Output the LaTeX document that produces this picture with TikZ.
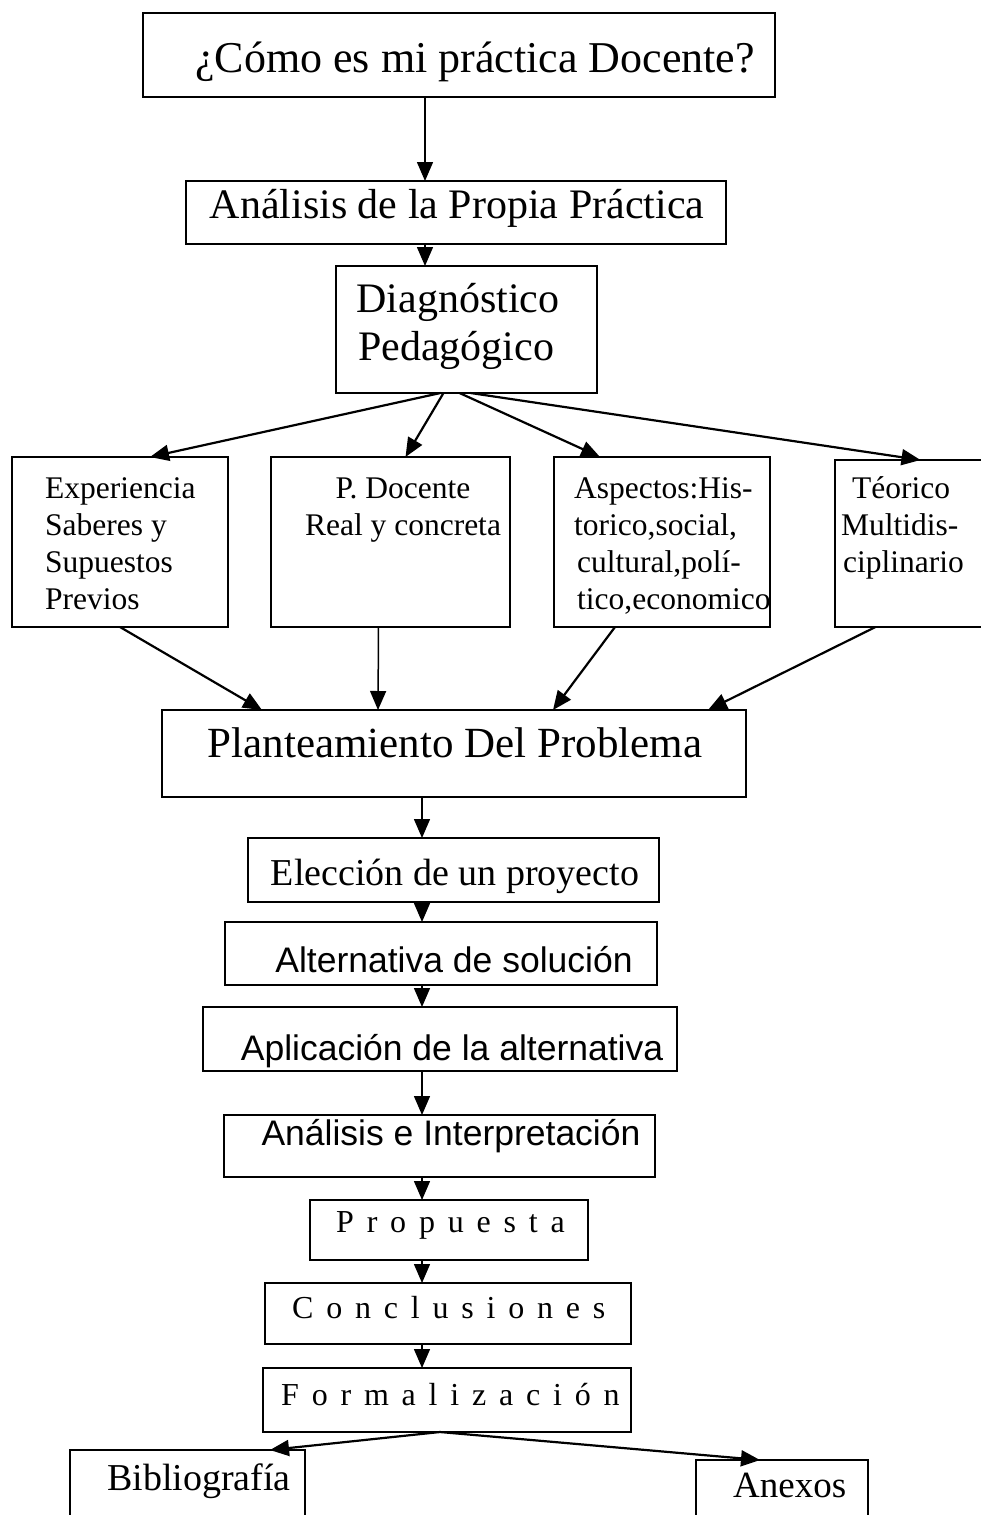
\documentclass[tikz,border=0pt]{standalone}
\usepackage{fontspec}
\setmainfont{Liberation Serif}
\newfontfamily\sansf{Liberation Sans}
\newfontfamily\spacedf[LetterSpace=40]{Liberation Serif}
\usetikzlibrary{arrows.meta,calc}
\tikzset{
 box/.style={draw, line width=2pt, inner sep=0pt, outer sep=0pt},
 lbl/.style={inner sep=0pt, anchor=base},
 lblw/.style={inner sep=0pt, anchor=base west},
 arr/.style={line width=2.2pt, -{Triangle[length=19pt,width=16pt]}},
 varr/.style={line width=1.5pt, -{Triangle[length=19pt,width=16pt]}},
 big/.style={font=\fontsize{44}{50}\selectfont},
 mid/.style={font=\fontsize{42}{48}\selectfont},
 small/.style={font=\fontsize{31.5}{37}\selectfont},
 serifm/.style={font=\fontsize{38}{44}\selectfont},
 sansm/.style={font=\sansf\fontsize{35.5}{42}\selectfont},
 spaced/.style={font=\spacedf\fontsize{32}{38}\selectfont},
}
\newcommand\mybox[5]{\node[box, anchor=north west, minimum width={#4-#2}, minimum height={#5-#3}] (#1) at (#2,#3) {};}
\begin{document}
\begin{tikzpicture}[x=1pt,y=-1pt]
\clip (0,0) rectangle (981,1515);
\fill[white] (0,0) rectangle (981,1515);
% boxes
\mybox{top}{143}{13}{775}{97}
\mybox{ana}{186}{181}{726}{244}
\mybox{diag}{336}{266}{597}{393}
\mybox{bA}{12}{457}{228}{627}
\mybox{bB}{271}{457}{510}{627}
\mybox{bC}{554}{457}{770}{627}
\mybox{bD}{835}{460}{1010}{627}
\mybox{plan}{162}{710}{746}{797}
\mybox{elec}{248}{838}{659}{902}
\mybox{alt}{225}{922}{657}{985}
\mybox{apl}{203}{1007}{677}{1071}
\mybox{aint}{224}{1115}{655}{1177}
\mybox{prop}{310}{1200}{588}{1260}
\mybox{conc}{265}{1283}{631}{1344}
\mybox{form}{263}{1368}{631}{1432}
\mybox{bib}{70}{1450}{305}{1530}
\mybox{anx}{696}{1460}{868}{1530}
% texts
\node[lbl,big] (ttop) at (475,72) {¿Cómo es mi práctica Docente?};
\node[lbl,mid] (tana) at (457,218) {Análisis de la Propia Práctica};
\node[lbl,mid] (tdiag1) at (458,312) {Diagnóstico};
\node[lbl,mid] (tdiag2) at (456,360) {Pedagógico};
\node[lblw,small] (tA1) at (45,498) {Experiencia};
\node[lblw,small] (tA2) at (45,535) {Saberes y};
\node[lblw,small] (tA3) at (45,572) {Supuestos};
\node[lblw,small] (tA4) at (45,609) {Previos};
\node[lbl,small] (tB1) at (403,498) {P. Docente};
\node[lbl,small] (tB2) at (403,535) {Real y concreta};
\node[lblw,small] (tC1) at (574,498) {Aspectos:His-};
\node[lblw,small] (tC2) at (574,535) {torico,social,};
\node[lblw,small] (tC3) at (577,572) {cultural,polí-};
\node[lblw,small] (tC4) at (577,609) {tico,economico};
\node[lblw,small] (tD1) at (852,498) {Téorico};
\node[lblw,small] (tD2) at (841,535) {Multidis-};
\node[lblw,small] (tD3) at (843,572) {ciplinario};
\node[lbl,font=\fontsize{43}{50}\selectfont] (tplan) at (455,757) {Planteamiento Del Problema};
\node[lbl,serifm] (telec) at (455,885) {Elección de un proyecto};
\node[lbl,sansm] (talt) at (454,972) {Alternativa de solución};
\node[lbl,sansm] (tapl) at (452,1060) {Aplicación de la alternativa};
\node[lbl,sansm] (taint) at (451,1145) {Análisis e Interpretación};
\node[lblw,spaced] (tprop) at (336,1232) {Propuesta};
\node[lblw,spaced] (tconc) at (292,1318) {Conclusiones};
\node[lblw,spaced] (tform) at (281,1405) {Formalización};
\node[lblw,serifm] (tbib) at (107,1490) {Bibliografía};
\node[lblw,font=\fontsize{37}{44}\selectfont] (tanx) at (733,1497) {Anexos};
% connectors
\coordinate (cx) at (425,0);
\coordinate (cy) at (422,0);
\draw[varr] (top.south -| cx) -- (ana.north -| cx);
\draw[varr] (ana.south -| cx) -- (diag.north -| cx);
\draw[arr] ([xshift=-26pt]diag.south) -- ([xshift=30pt]bA.north);
\draw[arr] ([xshift=-23pt]diag.south) -- ([xshift=15pt]bB.north);
\draw[arr] ([xshift=-7pt]diag.south) -- ([xshift=-62pt]bC.north);
\draw[arr] ([xshift=4pt]diag.south) -- ([xshift=-2pt]bD.north);
\draw[arr] (bA.south) -- ([xshift=-192pt]plan.north);
\draw[varr] ([xshift=-12pt]bB.south) -- ([xshift=-76pt]plan.north);
\draw[arr] ([xshift=-47pt]bC.south) -- ([xshift=99pt]plan.north);
\draw[arr] ([xshift=-47pt]bD.south) -- ([xshift=254pt]plan.north);
\draw[varr] (plan.south -| cy) -- (elec.north -| cy);
\draw[varr] (elec.south -| cy) -- (alt.north -| cy);
\draw[varr] (alt.south -| cy) -- (apl.north -| cy);
\draw[varr] (apl.south -| cy) -- (aint.north -| cy);
\draw[varr] (aint.south -| cy) -- (prop.north -| cy);
\draw[varr] (prop.south -| cy) -- (conc.north -| cy);
\draw[varr] (conc.south -| cy) -- (form.north -| cy);
\draw[arr] ([xshift=-7pt]form.south) -- ([xshift=-35pt]bib.north east);
\draw[arr] ([xshift=-7pt]form.south) -- ([xshift=-22pt]anx.north);
\end{tikzpicture}
\end{document}
